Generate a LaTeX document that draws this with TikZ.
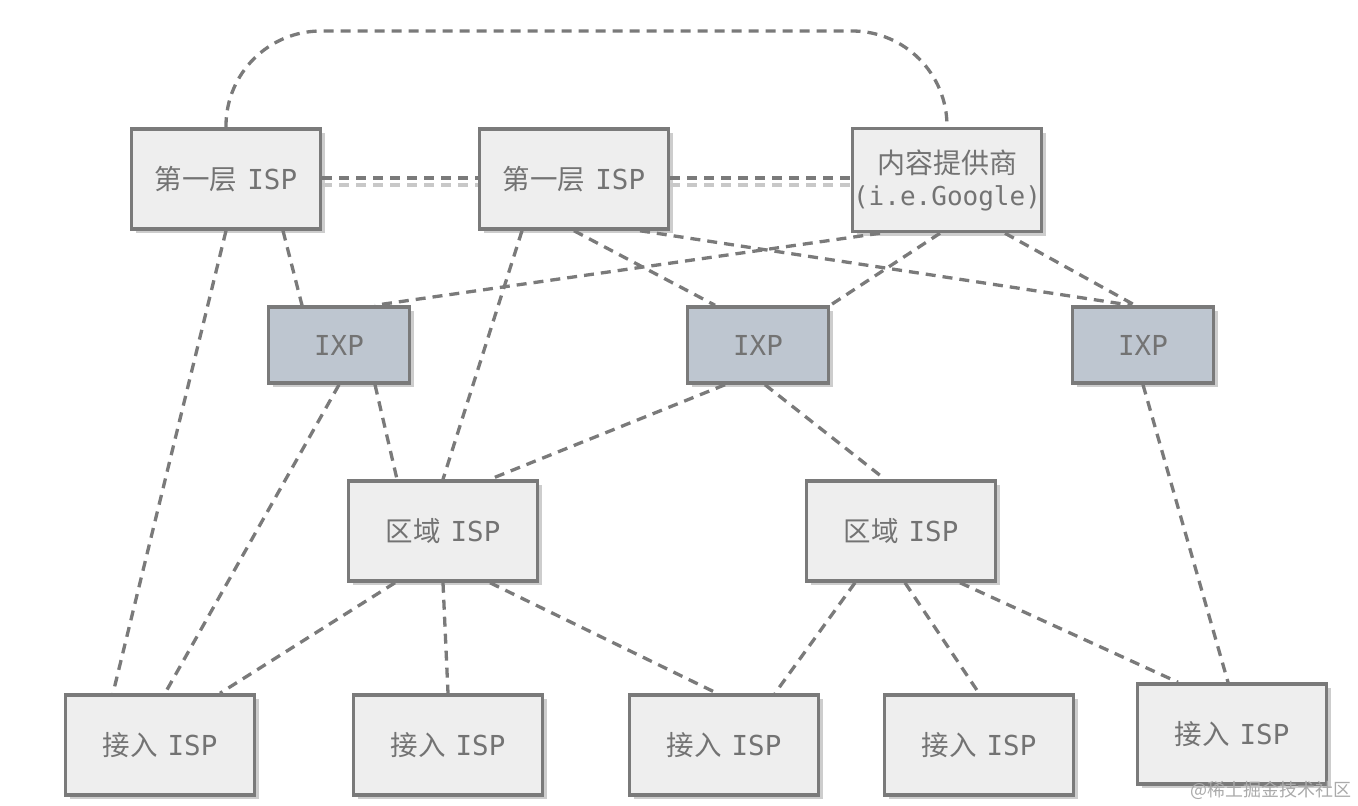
\documentclass[tikz,border=0pt]{standalone}
\usepackage{fontspec}
\newfontfamily\cjk{Noto Sans CJK SC}
\newfontfamily\mono{DejaVu Sans Mono}
\usetikzlibrary{shadows}
\definecolor{boxfill}{RGB}{238,238,238}
\definecolor{ixpfill}{RGB}{190,198,208}
\definecolor{edgec}{RGB}{122,122,122}
\definecolor{txtc}{RGB}{115,115,115}
\definecolor{lightc}{RGB}{200,200,200}
\definecolor{shadowc}{RGB}{205,205,205}
\definecolor{wmc}{RGB}{170,170,170}
\newcommand{\isp}[1]{{\cjk #1}\hspace{10pt}{\mono ISP}}
\begin{document}
\begin{tikzpicture}[x=1pt,y=-1pt,
  box/.style={draw=edgec, line width=3.5pt, fill=boxfill, minimum width=189pt,
    minimum height=100pt, inner sep=0pt, text=txtc,
    font=\fontsize{27.5}{32}\selectfont,
    drop shadow={shadow xshift=4pt, shadow yshift=-4pt, fill=shadowc, opacity=1}},
  ixp/.style={box, fill=ixpfill, minimum width=141pt, minimum height=76pt},
  link/.style={draw=edgec, line width=3.3pt, dash pattern=on 10pt off 7pt},
  lightlink/.style={draw=lightc, line width=3.3pt, dash pattern=on 10pt off 7pt}]
\useasboundingbox (0,0) rectangle (1358,806);
% nodes
\node[box] (t1) at (226,179) {\isp{第一层}};
\node[box] (t2) at (574,179) {\isp{第一层}};
\node[box, align=center, minimum height=103pt] (cp) at (947,180)
  {{\cjk\fontsize{28}{32}\selectfont 内容提供商}\\{\mono\fontsize{26}{32}\selectfont (i.e.Google)}};
\node[ixp] (x1) at (339,345) {\mono IXP};
\node[ixp] (x2) at (758,345) {\mono IXP};
\node[ixp] (x3) at (1143,345) {\mono IXP};
\node[box] (r1) at (443,531) {\isp{区域}};
\node[box] (r2) at (901,531) {\isp{区域}};
\node[box] (a1) at (160,745) {\isp{接入}};
\node[box] (a2) at (448,745) {\isp{接入}};
\node[box] (a3) at (724,745) {\isp{接入}};
\node[box] (a4) at (979,745) {\isp{接入}};
\node[box] (a5) at (1232,734) {\isp{接入}};
% top arc
\coordinate (arctop) at (0,31);
\draw[link, rounded corners=95pt] (t1.north) -- (t1.north |- arctop) -- (cp.north |- arctop) -- (cp.north);
% double links between tier-1 and content provider
\draw[link] ([yshift=1pt]t1.east) -- ([yshift=1pt]t2.west);
\draw[lightlink] ([yshift=-6pt]t1.east) -- ([yshift=-6pt]t2.west);
\draw[link] ([yshift=1pt]t2.east) -- ([yshift=2pt]cp.west);
\draw[lightlink] ([yshift=-6pt]t2.east) -- ([yshift=-5pt]cp.west);
% tier 1 links
\draw[link] (t1.south) -- ([xshift=-47pt]a1.north);
\draw[link] ([xshift=57pt]t1.south) -- ([xshift=-37pt]x1.north);
\draw[link] ([xshift=-52pt]t2.south) -- (r1.north);
\draw[link] (t2.south) -- ([xshift=-43pt]x2.north);
\draw[link] ([xshift=66pt]t2.south) -- ([xshift=-12pt]x3.north);
\draw[link] ([xshift=-67pt]cp.south) -- ([xshift=36pt]x1.north);
\draw[link] ([xshift=-7pt]cp.south) -- (x2.north east);
\draw[link] ([xshift=58pt]cp.south) -- ([xshift=-8pt]x3.north);
% IXP links
\draw[link] (x1.south) -- ([xshift=5pt]a1.north);
\draw[link] ([xshift=36pt]x1.south) -- ([xshift=-46pt]r1.north);
\draw[link] ([xshift=-33pt]x2.south) -- ([xshift=47pt]r1.north);
\draw[link] ([xshift=7pt]x2.south) -- ([xshift=-16pt]r2.north);
\draw[link] (x3.south) -- ([xshift=-4pt]a5.north);
% regional links
\draw[link] ([xshift=-48pt]r1.south) -- ([xshift=60pt]a1.north);
\draw[link] (r1.south) -- (a2.north);
\draw[link] ([xshift=47pt]r1.south) -- ([xshift=-7pt]a3.north);
\draw[link] ([xshift=-46pt]r2.south) -- ([xshift=51pt]a3.north);
\draw[link] ([xshift=4pt]r2.south) -- (a4.north);
\draw[link] ([xshift=59pt]r2.south) -- ([xshift=-54pt]a5.north);
% watermark
\node[anchor=east, text=wmc, font=\cjk\fontsize{18}{20}\selectfont, inner sep=0pt] (wm) at (1352,790) {@稀土掘金技术社区};
\end{tikzpicture}
\end{document}
